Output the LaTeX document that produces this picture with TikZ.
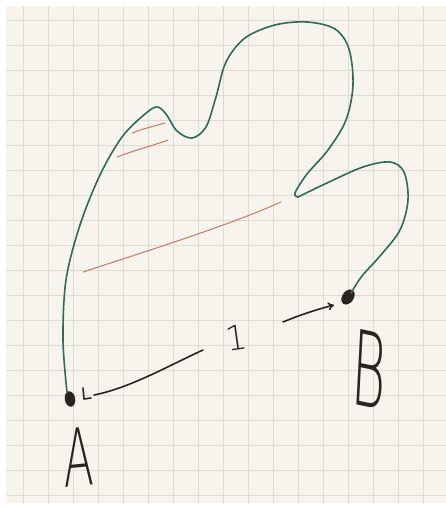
\documentclass[tikz,border=0pt]{standalone}
\usepackage{fontspec}
\usetikzlibrary{shapes.geometric,arrows.meta,calc}
\IfFontExistsTF{DejaVu Sans ExtraLight}{\newfontfamily\handfont{DejaVu Sans ExtraLight}}{\newfontfamily\handfont{DejaVu Sans}}
\definecolor{paper}{HTML}{F7F4EE}
\definecolor{gridc}{HTML}{E0DBD2}
\definecolor{pathgreen}{HTML}{2F6B58}
\definecolor{redline}{HTML}{C9806F}
\definecolor{ink}{HTML}{2B2320}
\tikzset{
  dotnode/.style={ellipse, fill=ink, draw=ink, inner sep=0pt, minimum width=10pt, minimum height=15pt},
  greenline/.style={draw=pathgreen, line width=1.6pt, line cap=round, line join=round},
  redstroke/.style={draw=redline, line width=1.1pt, line cap=round},
  inkline/.style={draw=ink, line width=1.6pt, line cap=round, line join=round},
  letter/.style={text=ink, inner sep=0pt}
}
\begin{document}
\begin{tikzpicture}[x=1pt,y=-1pt]
\useasboundingbox (0,0) rectangle (446,507);
\fill[white] (0,0) rectangle (446,507);
\fill[paper] (6,6) rectangle (446,503);
% grid
\foreach \gx in {23,48,...,423} \draw[gridc, line width=0.9pt] (\gx,6) -- (\gx,503);
\foreach \gy in {20,45,...,495} \draw[gridc, line width=0.9pt] (6,\gy) -- (446,\gy);
% dots
\node[dotnode, rotate=10] (a) at (70,399) {};
\node[dotnode, rotate=-35, minimum width=11pt, minimum height=16pt] (b) at (348,297) {};
% green curve
\draw[greenline] plot[smooth, tension=0.55] coordinates {
 (67,392) (63,340) (66,280) (80,225) (100,175) (122,137) (145,114) (157,107) (166,114)
 (177,131) (192,138) (206,127) (216,97) (226,62) (245,38) (275,25) (307,22) (335,29)
 (349,49) (353,85) (346,120) (328,150) (307,174) (295,193) (298,197)};
\draw[greenline] plot[smooth, tension=0.55] coordinates {
 (298,197) (327,183) (363,167) (390,162) (404,172) (408,200) (400,230) (380,256)
 (362,276) (351,293)};
% red lines
\draw[redstroke] (83,272) .. controls (150,250) and (230,225) .. (281,202);
\draw[redstroke] (132,133) .. controls (145,128) and (155,126) .. (165,123);
\draw[redstroke] (117,157) .. controls (135,150) and (155,145) .. (168,140);
% connector A -> B with label
\coordinate (g1) at (203,350);
\coordinate (g2) at (283,322);
\draw[inkline] (83,388) -- (84,399) -- (91,398);
\draw[inkline] ($(a)+(24,-4)$) .. controls (130,388) and (170,365) .. (g1);
\node[letter, font=\handfont\fontsize{34}{34}\selectfont, rotate=8] (one) at (236,338) {1};
\draw[inkline, -{To[length=6pt,width=8pt]}] (g2) .. controls (300,315) and (315,310) .. ($(b)+(-14,8)$);
% labels
\node[letter, font=\handfont\fontsize{80}{80}\selectfont, xscale=0.55, rotate=3] (la) at (79,457) {A};
\node[letter, font=\handfont\fontsize{104}{104}\selectfont, xscale=0.5, rotate=-6] (lb) at (369,369) {B};
\end{tikzpicture}
\end{document}
